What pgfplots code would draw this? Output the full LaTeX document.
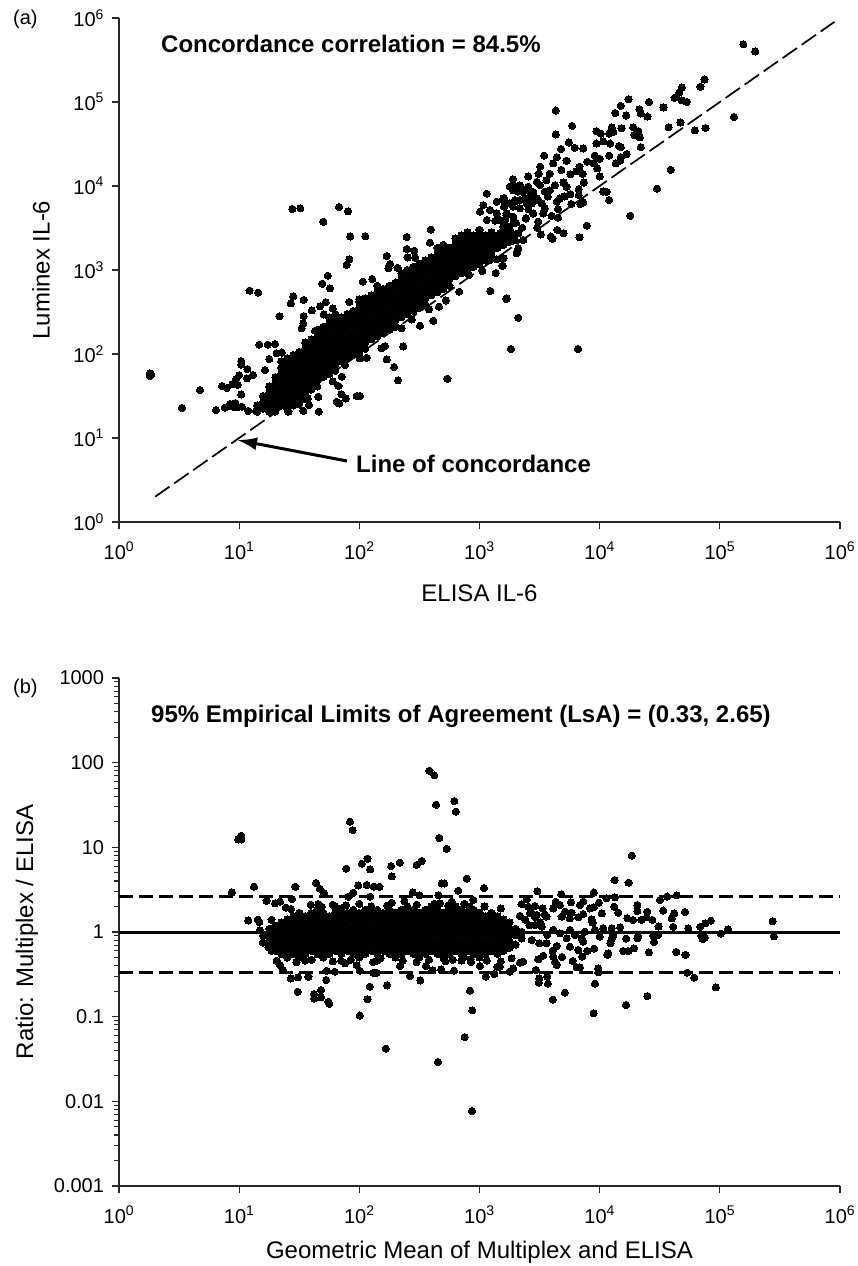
\documentclass[border=0pt]{standalone}
\usepackage{fontspec}
\setmainfont{Liberation Sans}
\usepackage{pgfplots}
\pgfplotsset{compat=1.18}
\usetikzlibrary{arrows.meta}
\pgfplotsset{
  every axis/.append style={
    axis line style={-,line width=1.3pt,color=black!85},
    tick style={line width=1.1pt,color=black!85},
  },
  /pgfplots/scatterpts/.style={only marks, mark=*, mark size=3.6pt, color=black, mark options={draw=black,fill=black,line width=0pt}},
}
\begin{document}
\begin{tikzpicture}[x=1pt,y=1pt]
\useasboundingbox (0,0) rectangle (857,1266);
\begin{loglogaxis}[scale only axis, width=721pt, height=504pt, at={(119pt,744pt)}, anchor=south west,
  xmin=1, xmax=1e6, ymin=1, ymax=1e6,
  axis x line*=bottom, axis y line*=left,
  tick align=outside, major tick length=7.5pt, minor tick length=5pt,
  xminorticks=false, yminorticks=false,
  xtick={1,10,100,1000,10000,100000,1000000},
  xticklabels={10\textsuperscript{0},10\textsuperscript{1},10\textsuperscript{2},10\textsuperscript{3},10\textsuperscript{4},10\textsuperscript{5},10\textsuperscript{6}},
  ytick={1,10,100,1000,10000,100000,1000000},
  yticklabels={10\textsuperscript{0},10\textsuperscript{1},10\textsuperscript{2},10\textsuperscript{3},10\textsuperscript{4},10\textsuperscript{5},10\textsuperscript{6}},
  tick label style={font=\fontsize{20}{24}\selectfont},
  xticklabel style={yshift=-9pt}, yticklabel style={xshift=-4pt},
  clip=false,
  xlabel={ELISA IL-6}, ylabel={Luminex IL-6},
  xlabel style={font=\fontsize{24}{28}\selectfont,at={(axis description cs:0.5,0)},anchor=center,yshift=-71pt},
  ylabel style={font=\fontsize{24}{28}\selectfont,at={(axis description cs:0,0.5)},anchor=center,yshift=78pt},
]
\addplot[black,line width=1.7pt,dash pattern=on 17.5pt off 5.7pt] coordinates {(2,2)(900000,900000)};
\addplot[scatterpts] coordinates {
(20,22.4)(20,26.6)(20,31.6)(20,37.6)(20,44.7)(20,53.1)
(22.4,24.4)(22.4,29)(22.4,34.5)(22.4,41)(22.4,48.7)(22.4,57.9)(22.4,68.8)(22.4,81.8)
(25.1,22.4)(25.1,26.6)(25.1,31.6)(25.1,37.6)(25.1,44.7)(25.1,53.1)(25.1,63.1)(25.1,75)(25.1,89.1)
(28.2,24.4)(28.2,29)(28.2,34.5)(28.2,41)(28.2,48.7)(28.2,57.9)(28.2,68.8)(28.2,81.8)(28.2,97.2)
(31.6,26.6)(31.6,31.6)(31.6,37.6)(31.6,44.7)(31.6,53.1)(31.6,63.1)(31.6,75)(31.6,89.1)(31.6,106)
(35.5,29)(35.5,34.5)(35.5,41)(35.5,48.7)(35.5,57.9)(35.5,68.8)(35.5,81.8)(35.5,97.2)(35.5,115)(35.5,137)
(39.8,37.6)(39.8,44.7)(39.8,53.1)(39.8,63.1)(39.8,75)(39.8,89.1)(39.8,106)(39.8,126)(39.8,150)
(44.7,41)(44.7,48.7)(44.7,57.9)(44.7,68.8)(44.7,81.8)(44.7,97.2)(44.7,115)(44.7,137)(44.7,163)(44.7,194)
(50.1,53.1)(50.1,63.1)(50.1,75)(50.1,89.1)(50.1,106)(50.1,126)(50.1,150)(50.1,178)(50.1,211)
(56.2,57.9)(56.2,68.8)(56.2,81.8)(56.2,97.2)(56.2,115)(56.2,137)(56.2,163)(56.2,194)(56.2,231)(56.2,274)
(63.1,63.1)(63.1,75)(63.1,89.1)(63.1,106)(63.1,126)(63.1,150)(63.1,178)(63.1,211)(63.1,251)(63.1,299)
(70.8,81.8)(70.8,97.2)(70.8,115)(70.8,137)(70.8,163)(70.8,194)(70.8,231)(70.8,274)
(79.4,89.1)(79.4,106)(79.4,126)(79.4,150)(79.4,178)(79.4,211)(79.4,251)(79.4,299)
(89.1,97.2)(89.1,115)(89.1,137)(89.1,163)(89.1,194)(89.1,231)(89.1,274)(89.1,325)
(100,106)(100,126)(100,150)(100,178)(100,211)(100,251)(100,299)(100,355)(100,422)
(112,115)(112,137)(112,163)(112,194)(112,231)(112,274)(112,325)(112,387)(112,460)
(126,150)(126,178)(126,211)(126,251)(126,299)(126,355)(126,422)(126,501)
(141,163)(141,194)(141,231)(141,274)(141,325)(141,387)(141,460)(141,546)(141,649)
(158,178)(158,211)(158,251)(158,299)(158,355)(158,422)(158,501)(158,596)
(178,194)(178,231)(178,274)(178,325)(178,387)(178,460)(178,546)(178,649)
(200,211)(200,251)(200,299)(200,355)(200,422)(200,501)(200,596)(200,708)
(224,274)(224,325)(224,387)(224,460)(224,546)(224,649)(224,772)(224,917)
(251,299)(251,355)(251,422)(251,501)(251,596)(251,708)(251,841)(251,1000)
(282,325)(282,387)(282,460)(282,546)(282,649)(282,772)(282,917)(282,1091)
(316,355)(316,422)(316,501)(316,596)(316,708)(316,841)(316,1000)(316,1189)
(355,387)(355,460)(355,546)(355,649)(355,772)(355,917)(355,1091)(355,1296)
(398,501)(398,596)(398,708)(398,841)(398,1000)(398,1189)(398,1413)
(447,546)(447,649)(447,772)(447,917)(447,1091)(447,1296)(447,1540)(447,1830)
(501,596)(501,708)(501,841)(501,1000)(501,1189)(501,1413)(501,1679)(501,1995)
(562,649)(562,772)(562,917)(562,1091)(562,1296)(562,1540)(562,1830)
(631,841)(631,1000)(631,1189)(631,1413)(631,1679)(631,1995)(631,2371)
(708,917)(708,1091)(708,1296)(708,1540)(708,1830)(708,2175)(708,2585)
(794,1000)(794,1189)(794,1413)(794,1679)(794,1995)(794,2371)(794,2818)
(891,1091)(891,1296)(891,1540)(891,1830)(891,2175)(891,2585)
(1000,1189)(1000,1413)(1000,1679)(1000,1995)(1000,2371)(1000,2818)(1000,3000)
(1122,1296)(1122,1540)(1122,1830)(1122,2175)(1122,2585)
(1259,1413)(1259,1679)(1259,1995)(1259,2371)(1259,2818)
(1413,1830)(1413,2175)(1413,2585)
(1585,1995)(1585,2371)(1585,2818)
(1778,2175)(1778,2585)(1778,3000)
(14.1,20.5)(14.1,24.4)(15.8,22.4)(15.8,26.6)(15.8,31.6)(17.8,20.5)(17.8,24.4)(17.8,29)(17.8,34.5)(17.8,41)
(1790,9820)(2100,8550)(2550,9820)(3180,1.03e4)(1630,6500)(1790,6200)(2170,6800)(2630,7460)(3080,6800)(1630,3940)
(1910,4320)(2170,5420)(2720,6200)(1480,2730)(1730,3280)(1970,2610)(1680,2170)(1480,3940)(3500,8550)
(27.7,5320)(32.3,5420)(67.8,5620)(80.5,4990)(50.2,3760)(84.1,2510)(112,2530)(248,2470)(393,3020)(387,2110)
(248,1780)(287,1700)(169,1470)(82.6,1340)(78.5,1150)(180,1180)(252,1410)(291,1410)(208,1060)(175,1050)
(54.6,855)(49.2,687)(57,604)(107,726)(128,780)(12.2,568)(14.4,537)(28.2,485)(26.9,401)(34.4,440)
(40.2,331)(47.1,369)(52.5,412)(60,349)(82.6,416)(100,447)(21.7,281)(34.4,283)(50.6,296)(34.2,232)
(33.1,202)(42.8,189)(47.6,198)(14.7,129)(17.3,129)(19.9,131)(22.6,104)(20.5,102)(17.8,87)(10.4,82.4)
(11.7,66.2)(13,56.2)(11.6,51.3)(9.4,49.9)(8.8,43.9)(10.4,33)(16.4,64.4)(8.4,25.4)(9.2,23.2)(10.5,23.6)
(11.9,21)(13.8,21)(45.9,20.6)(34.2,21.1)(25.7,20.6)(19.9,20.6)(31.5,25.1)(38.1,24.7)(45.6,31)(37.2,29.6)
(64.9,27)(68.2,25.8)(77.1,29.6)(70.8,33.3)(95,31.6)(101,31.6)(60,47.2)(67,41.6)(71.3,53.7)(210,48.5)
(195,70)(169,86.3)(232,123)(541,50.8)(1828,115)(2100,270)(1675,451)(1230,562)(1365,920)(1150,8090)
(320,217)(413,249)(460,366)(380,340)(526,434)(679,552)(153,117)(164,124)(115,90)(101,88.7)
(76,74)(225,202)(273,258)(818,871)(1057,973)(1550,1125)(1225,1315)(1390,1340)(1585,1377)(2066,1652)
(2317,2275)(1977,2275)(2438,4120)(1009,4940)(1076,5930)(1390,6500)(1585,7130)(1600,5670)(1225,5180)(1390,4720)
(1680,4510)(1150,3936)(1350,3860)(1914,3590)(1914,10250)(2173,9800)(2470,8950)(1977,6500)(2470,6210)
(1.81,59)(1.81,54.8)(1.85,57)(3.34,22.8)(4.72,37.2)(6.4,21.5)(7.2,41.7)(7.9,39.5)(7.6,23)(8.2,24)(9.3,26)(9.7,43)(10,56)(10.4,75)(9.8,23.4)(6600,115)
(1.57e5,4.85e5)(1.97e5,4.0e5)(1.31e5,6.6e4)(7.46e4,1.85e5)(6.9e4,1.52e5)(4.84e4,1.49e5)(4.57e4,1.29e5)(4.2e4,1.12e5)(4.8e4,1.05e5)(5.3e4,1.0e5)
(2.57e4,1.0e5)(3.4e4,8.6e4)(1.74e4,1.08e5)(1.5e4,9.0e4)(1.35e4,7.4e4)(1.66e4,6.9e4)(2.14e4,8.2e4)(2.2e4,7.3e4)(2.5e4,6.7e4)(4300,7.9e4)
(4300,4.1e4)(5900,5.2e4)(3.75e4,5.0e4)(4.7e4,5.7e4)(6.2e4,4.6e4)(7.6e4,4.9e4)(3.9e4,1.56e4)(3.0e4,9300)(1.8e4,4430)(1.26e4,5e4)
(1.52e4,4.85e4)(1.9e4,5.0e4)(2.1e4,4.5e4)(1.94e4,4.05e4)(2.16e4,3.8e4)(2.2e4,2.9e4)(9400,4.5e4)(1.02e4,4.2e4)(1.2e4,4.2e4)(1.3e4,4.4e4)
(9400,3.2e4)(1.07e4,3.4e4)(1.22e4,3.2e4)(1.45e4,3.0e4)(1.5e4,2.9e4)(5550,3.3e4)(4770,2.75e4)(6200,2.85e4)(7300,2.8e4)(3460,2.3e4)
(4400,2.2e4)(5300,2.0e4)(4100,1.86e4)(9100,2.3e4)(1.0e4,2.1e4)(1.2e4,2.3e4)(1.68e4,2.4e4)(1.5e4,2.2e4)(1.36e4,1.86e4)(1.48e4,2e4)
(7900,1.95e4)(8900,1.86e4)(6800,1.7e4)(9550,1.62e4)(3200,1.7e4)(4800,1.55e4)(3850,1.4e4)(1900,1.2e4)(2550,1.3e4)(3100,1.4e4)
(5700,1.38e4)(6400,1.5e4)(7200,1.4e4)(1.0e4,1.3e4)(7400,1.1e4)(3600,1.17e4)(2170,1.02e4)(3000,1.12e4)(4250,1.02e4)(5000,1.1e4)
(5300,9800)(1900,8900)(2310,8500)(2800,8500)(3850,8900)(1.07e4,8600)(1.14e4,8500)(6700,9200)(6700,7800)(1.2e4,6800)
(5700,8000)(4660,7100)(5100,7500)(3700,7500)(5800,6100)(6900,6100)(7300,6400)(4400,6500)(1600,7100)(1970,6800)
(2390,7100)(3000,7100)(3300,6200)(4500,5300)(3500,5400)(1900,5700)(2550,5300)(2800,4700)(1680,4700)(3400,4700)
(3980,4400)(4500,4200)(2430,4100)(3080,3760)(2010,3650)(2270,3190)(3030,3190)(7800,3370)(4440,3000)(5000,2750)
(3240,2650)(3930,2500)(4050,2360)(6800,2450)(2100,2730)(1790,3000)(1580,3280)(2310,2280)(1900,2230)(2100,1810)
(2040,1580)(1560,1370)(1560,1125)(1680,460)
};
\draw[-{Latex[length=20pt,width=13pt]},line width=3pt] (axis cs:79,5.32) -- (axis cs:9.6,9.47);
\end{loglogaxis}
\begin{loglogaxis}[scale only axis, width=721pt, height=508pt, at={(119pt,80pt)}, anchor=south west,
  xmin=1, xmax=1e6, ymin=0.001, ymax=1000,
  axis x line*=bottom, axis y line*=left,
  tick align=outside, major tick length=7.5pt, minor tick length=5pt,
  xminorticks=false, yminorticks=true,
  xtick={1,10,100,1000,10000,100000,1000000},
  xticklabels={10\textsuperscript{0},10\textsuperscript{1},10\textsuperscript{2},10\textsuperscript{3},10\textsuperscript{4},10\textsuperscript{5},10\textsuperscript{6}},
  ytick={0.001,0.01,0.1,1,10,100,1000},
  yticklabels={0.001,0.01,0.1,1,10,100,1000},
  tick label style={font=\fontsize{20}{24}\selectfont},
  xticklabel style={yshift=-9pt}, yticklabel style={xshift=-4pt},
  clip=false,
  xlabel={Geometric Mean of Multiplex and ELISA}, ylabel={Ratio: Multiplex / ELISA},
  xlabel style={font=\fontsize{24}{28}\selectfont,at={(axis description cs:0.5,0)},anchor=center,yshift=-66pt},
  ylabel style={font=\fontsize{24}{28}\selectfont,at={(axis description cs:0,0.5)},anchor=center,yshift=92pt},
]
\addplot[black,line width=3pt] coordinates {(1,1)(1e6,1)};
\addplot[black,line width=2.8pt,dash pattern=on 14pt off 6pt] coordinates {(1,2.65)(1e6,2.65)};
\addplot[black,line width=2.8pt,dash pattern=on 14pt off 6pt] coordinates {(1,0.33)(1e6,0.33)};
\addplot[scatterpts] coordinates {
(17.8,.65)(17.8,.77)(17.8,.92)(17.8,1.09)
(20,.6)(20,.71)(20,.84)(20,1)(20,1.19)
(22.4,.55)(22.4,.65)(22.4,.77)(22.4,.92)(22.4,1.09)(22.4,1.3)
(25.1,.5)(25.1,.6)(25.1,.71)(25.1,.84)(25.1,1)(25.1,1.19)(25.1,1.41)
(28.2,.55)(28.2,.65)(28.2,.77)(28.2,.92)(28.2,1.09)(28.2,1.3)(28.2,1.54)
(31.6,.5)(31.6,.6)(31.6,.71)(31.6,.84)(31.6,1)(31.6,1.19)(31.6,1.41)(31.6,1.68)
(35.5,.46)(35.5,.55)(35.5,.65)(35.5,.77)(35.5,.92)(35.5,1.09)(35.5,1.3)(35.5,1.54)
(39.8,.6)(39.8,.71)(39.8,.84)(39.8,1)(39.8,1.19)(39.8,1.41)(39.8,1.68)
(44.7,.55)(44.7,.65)(44.7,.77)(44.7,.92)(44.7,1.09)(44.7,1.3)(44.7,1.54)(44.7,1.83)
(50.1,.5)(50.1,.6)(50.1,.71)(50.1,.84)(50.1,1)(50.1,1.19)(50.1,1.41)(50.1,1.68)
(56.2,.55)(56.2,.65)(56.2,.77)(56.2,.92)(56.2,1.09)(56.2,1.3)(56.2,1.54)
(63.1,.6)(63.1,.71)(63.1,.84)(63.1,1)(63.1,1.19)(63.1,1.41)(63.1,1.68)(63.1,2)
(70.8,.46)(70.8,.55)(70.8,.65)(70.8,.77)(70.8,.92)(70.8,1.09)(70.8,1.3)(70.8,1.54)(70.8,1.83)
(79.4,.6)(79.4,.71)(79.4,.84)(79.4,1)(79.4,1.19)(79.4,1.41)(79.4,1.68)
(89.1,.55)(89.1,.65)(89.1,.77)(89.1,.92)(89.1,1.09)(89.1,1.3)(89.1,1.54)(89.1,1.83)
(100,.5)(100,.6)(100,.71)(100,.84)(100,1)(100,1.19)(100,1.41)(100,1.68)
(112,.55)(112,.65)(112,.77)(112,.92)(112,1.09)(112,1.3)(112,1.54)(112,1.83)
(126,.6)(126,.71)(126,.84)(126,1)(126,1.19)(126,1.41)(126,1.68)(126,2)
(141,.46)(141,.55)(141,.65)(141,.77)(141,.92)(141,1.09)(141,1.3)(141,1.54)(141,1.83)
(158,.6)(158,.71)(158,.84)(158,1)(158,1.19)(158,1.41)(158,1.68)
(178,.55)(178,.65)(178,.77)(178,.92)(178,1.09)(178,1.3)(178,1.54)(178,1.83)
(200,.5)(200,.6)(200,.71)(200,.84)(200,1)(200,1.19)(200,1.41)(200,1.68)
(224,.55)(224,.65)(224,.77)(224,.92)(224,1.09)(224,1.3)(224,1.54)(224,1.83)
(251,.6)(251,.71)(251,.84)(251,1)(251,1.19)(251,1.41)(251,1.68)(251,2)
(282,.55)(282,.65)(282,.77)(282,.92)(282,1.09)(282,1.3)(282,1.54)(282,1.83)
(316,.5)(316,.6)(316,.71)(316,.84)(316,1)(316,1.19)(316,1.41)(316,1.68)
(355,.55)(355,.65)(355,.77)(355,.92)(355,1.09)(355,1.3)(355,1.54)(355,1.83)
(398,.6)(398,.71)(398,.84)(398,1)(398,1.19)(398,1.41)(398,1.68)(398,2)
(447,.55)(447,.65)(447,.77)(447,.92)(447,1.09)(447,1.3)(447,1.54)(447,1.83)
(501,.5)(501,.6)(501,.71)(501,.84)(501,1)(501,1.19)(501,1.41)(501,1.68)
(562,.55)(562,.65)(562,.77)(562,.92)(562,1.09)(562,1.3)(562,1.54)(562,1.83)
(631,.6)(631,.71)(631,.84)(631,1)(631,1.19)(631,1.41)(631,1.68)(631,2)
(708,.46)(708,.55)(708,.65)(708,.77)(708,.92)(708,1.09)(708,1.3)(708,1.54)(708,1.83)
(794,.6)(794,.71)(794,.84)(794,1)(794,1.19)(794,1.41)(794,1.68)
(891,.55)(891,.65)(891,.77)(891,.92)(891,1.09)(891,1.3)(891,1.54)(891,1.83)
(1000,.5)(1000,.6)(1000,.71)(1000,.84)(1000,1)(1000,1.19)(1000,1.41)(1000,1.68)
(1122,.55)(1122,.65)(1122,.77)(1122,.92)(1122,1.09)(1122,1.3)(1122,1.54)
(1259,.6)(1259,.71)(1259,.84)(1259,1)(1259,1.19)(1259,1.41)(1259,1.68)
(1413,.55)(1413,.65)(1413,.77)(1413,.92)(1413,1.09)(1413,1.3)(1413,1.54)
(1585,.6)(1585,.71)(1585,.84)(1585,1)(1585,1.19)(1585,1.41)
(1778,.65)(1778,.77)(1778,.92)(1778,1.09)(1778,1.3)
(1995,.71)(1995,.92)(1995,1.09)(2239,.84)(2239,1)
(2400,1.4)(2700,1.7)(2900,1.5)(3200,1.3)(2600,1.2)(3500,1.6)
(30,.44)(40,.47)(60,.45)(85,.47)(130,.44)(150,.49)(230,.46)(300,.44)(380,.47)(520,.45)(600,.47)(850,.44)(1150,.46)(1500,.45)
(60,2.1)(100,2.15)(170,2.05)(300,2.1)(420,2.15)(550,2.05)(750,2.15)(1100,2.0)(1500,1.9)
(10.4,13.7)(9.84,12.4)(10.4,12.4)(8.7,2.94)(13.3,3.43)(383,80.4)(421,70.8)(435,31.8)(617,35.2)(634,26.4)
(463,12.9)(533,9.6)(83.6,20.1)(88,16)(78,5.6)(105,6.4)(117,7.35)(123,5.5)(184,6)(186,4.54)
(217,6.6)(300,6.2)(330,6.9)(782,4.27)(484,3.75)(509,3.75)(98,3.55)(115,3.59)(132,3.43)(147,3.43)
(43.7,3.79)(47,3.24)(51,2.86)(29.4,3.43)(1090,3.31)(667,3.08)(278,2.94)(316,2.71)(455,2.73)(89,2.91)
(81,2.61)(123,2.61)(16.9,2.34)(19.9,2.18)(21.9,2.28)(27.5,2.45)(24.4,1.94)(27,1.87)(39.4,2.1)(45.6,2.14)
(48.6,1.99)(32,1.66)(70.5,1.9)(77.4,2.07)(186,2.22)(237,2.32)(469,2.18)(586,2.28)(889,2.39)(834,1.99)
(11.9,1.37)(14.3,1.4)(14.7,1.31)(18.6,1.4)(14.9,1.05)(15.9,.9)(15.7,.75)(17.5,.66)(18.6,.6)(20.5,.458)
(21.9,.407)(23,.356)(26.9,.283)(30.9,.291)(37.7,.297)(30.7,.197)(42,.185)(42,.164)(48,.206)(48,.169)
(55.2,.15)(56.2,.142)(53,.271)(53.4,.349)(62.4,.34)(101,.103)(117,.16)(122,.226)(166,.0419)(170,.234)
(139,.33)(834,.203)(871,.119)(753,.0574)(264,.302)(322,.268)(218,.396)(359,.396)(407,.352)(479,.362)
(614,.349)(1009,.396)(1125,.297)(1330,.319)(1406,.389)(735,.51)(845,.479)(95,.407)(76,.427)(101,.349)
(131,.33)(452,.0292)(866,.00769)
(1.85e4,7.98)(1.33e4,4.11)(1.74e4,3.83)(3030,3.03)(4790,2.79)(8910,2.92)(1.14e4,2.5)(1.34e4,2.57)(3.17e4,2.39)(3.66e4,2.62)
(4.37e4,2.71)(2470,2.43)(2240,2.14)(4300,2.28)(4660,2.08)(5770,2.24)(7300,2.28)(6850,2.08)(9860,2.22)(1.32e4,1.99)
(1.43e4,1.69)(2.06e4,2.08)(2.06e4,1.77)(2.49e4,1.73)(3.38e4,1.79)(5.13e4,1.73)(4.18e4,1.66)(3.99e4,1.45)(2550,1.99)(2890,2.03)
(3350,1.9)(4110,1.9)(8300,1.9)(8950,1.96)(1.04e4,1.66)(7300,1.63)(5140,1.74)(5830,1.69)(4820,1.52)(5650,1.45)
(6640,1.49)(2630,1.66)(2990,1.59)(2170,1.55)(3610,1.52)(8570,1.41)(8730,1.29)(1.7e4,1.45)(1.9e4,1.39)(2.23e4,1.39)
(2.46e4,1.49)(2.74e4,1.39)(8.43e4,1.36)(7.6e4,1.27)(6.87e4,1.15)(5.46e4,1.11)(4.09e4,1.15)(3.09e4,1.16)(2.75e5,1.34)(2.82e5,.889)
(1.17e5,1.08)(1.02e5,.957)(7.2e4,.828)(7.05e4,.897)(7.5e4,.857)(3.07e4,.922)(2.79e4,.897)(2.84e4,.762)(2.09e4,.881)(2.06e4,.841)
(1.66e4,.835)(1.48e4,1.14)(1.26e4,1.11)(1.07e4,1.11)(1.3e4,.922)(1.26e4,.841)(1.23e4,.736)(1.0e4,.881)(9120,1.06)(7530,1.01)
(7080,.841)(7300,.769)(5660,1.06)(6220,.922)(5310,.841)(4670,.966)(4110,1.06)(3660,.922)(3610,.736)(3140,.736)
(2720,.805)(3290,1.16)(2890,1.21)(4390,.684)(4060,.602)(5660,.671)(6640,.614)(7890,.597)(9010,.636)(1.57e4,.597)
(1.73e4,.597)(1.93e4,.641)(2.57e4,.575)(4.34e4,.581)(5.18e4,.536)(1.16e4,.536)(1.18e4,.56)(7160,.512)(4850,.507)(4110,.512)
(4250,.447)(4390,.408)(5960,.455)(3400,.526)(3080,.476)(2310,.447)(2170,.435)(1850,.489)(1480,.39)(1910,.372)
(1790,.34)(2930,.356)(6430,.383)(6850,.383)(9730,.372)(9730,.334)(5.36e4,.331)(6.12e4,.289)(9.27e4,.222)(3660,.297)
(3140,.284)(3120,.252)(3710,.245)(9140,.245)(5140,.192)(4080,.159)(2.49e4,.175)(1.66e4,.137)(8910,.11)
};
\end{loglogaxis}
\node[anchor=base west,inner sep=0pt,font=\fontsize{20}{24}\selectfont] at (13,1241) {(a)};
\node[anchor=base west,inner sep=0pt,font=\fontsize{20}{24}\selectfont] at (13,572) {(b)};
\node[anchor=base west,inner sep=0pt,font=\bfseries\fontsize{24}{28}\selectfont] at (161,1213.3) {Concordance correlation = 84.5\%};
\node[anchor=base west,inner sep=0pt,font=\bfseries\fontsize{24}{28}\selectfont] at (151,543.7) {95\% Empirical Limits of Agreement (LsA) = (0.33, 2.65)};
\node[anchor=base west,inner sep=0pt,font=\bfseries\fontsize{24}{28}\selectfont] at (356,793) {Line of concordance};
\end{tikzpicture}
\end{document}
